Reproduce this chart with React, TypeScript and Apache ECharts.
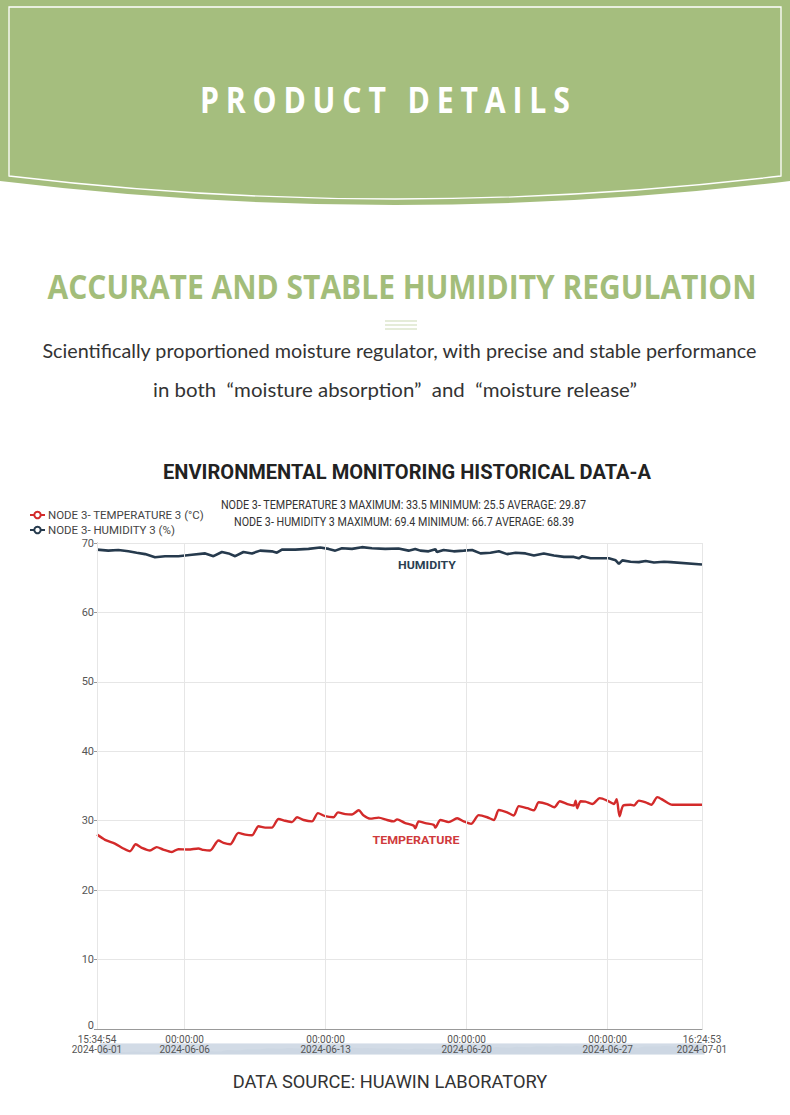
import React, { useEffect, useRef } from "react";
import * as echarts from "echarts";

// ---------------- data ----------------
const START_TIME = "2024-06-01 15:34:54";
const END_TIME = "2024-07-01 16:24:53";
const X_TICK_TIMES = [
  "2024-06-01 15:34:54", "2024-06-06 00:00:00", "2024-06-13 00:00:00",
  "2024-06-20 00:00:00", "2024-06-27 00:00:00", "2024-07-01 16:24:53",
];

const legendNames = ["NODE 3- TEMPERATURE 3 (°C)", "NODE 3- HUMIDITY 3 (%)"];

const statsLines = [
  "NODE 3- TEMPERATURE 3 MAXIMUM: 33.5 MINIMUM: 25.5 AVERAGE: 29.87",
  "NODE 3- HUMIDITY 3 MAXIMUM: 69.4 MINIMUM: 66.7 AVERAGE: 68.39",
];

const tempTimes = [
  "2024-06-01 15:34:54", "2024-06-02 01:10", "2024-06-02 12:55", "2024-06-02 23:00", "2024-06-03 06:55",
  "2024-06-03 13:40", "2024-06-03 20:50", "2024-06-04 06:40", "2024-06-04 14:40", "2024-06-04 22:30",
  "2024-06-05 08:40", "2024-06-05 16:30", "2024-06-06 04:30", "2024-06-06 16:20", "2024-06-06 22:20",
  "2024-06-07 06:15", "2024-06-07 16:20", "2024-06-07 22:20", "2024-06-08 06:15", "2024-06-08 16:05",
  "2024-06-09 00:15", "2024-06-09 08:10", "2024-06-09 16:05", "2024-06-10 00:00", "2024-06-10 07:55",
  "2024-06-10 15:50", "2024-06-10 23:45", "2024-06-11 07:55", "2024-06-11 13:55", "2024-06-11 21:50",
  "2024-06-12 07:40", "2024-06-12 14:50", "2024-06-12 23:30", "2024-06-13 09:20", "2024-06-13 14:40",
  "2024-06-13 23:30", "2024-06-14 07:25", "2024-06-14 15:20", "2024-06-14 21:20", "2024-06-15 05:15",
  "2024-06-15 15:05", "2024-06-16 01:10", "2024-06-16 09:05", "2024-06-16 13:10", "2024-06-16 22:05",
  "2024-06-17 08:50", "2024-06-17 10:45", "2024-06-17 14:50", "2024-06-17 22:45", "2024-06-18 08:50",
  "2024-06-18 10:45", "2024-06-18 16:45", "2024-06-19 02:35", "2024-06-19 12:40", "2024-06-19 20:35",
  "2024-06-20 05:15", "2024-06-20 14:25", "2024-06-21 00:30", "2024-06-21 08:25", "2024-06-21 14:25",
  "2024-06-22 00:15", "2024-06-22 08:10", "2024-06-22 14:10", "2024-06-23 00:15", "2024-06-23 08:10",
  "2024-06-23 13:55", "2024-06-24 00:00", "2024-06-24 08:35", "2024-06-24 15:05", "2024-06-25 00:00",
  "2024-06-25 07:40", "2024-06-25 09:50", "2024-06-25 11:45", "2024-06-25 15:50", "2024-06-25 21:35",
  "2024-06-26 05:45", "2024-06-26 14:35", "2024-06-26 23:30", "2024-06-27 07:25", "2024-06-27 10:45",
  "2024-06-27 14:10", "2024-06-27 18:40", "2024-06-28 03:20", "2024-06-28 07:25", "2024-06-28 13:10",
  "2024-06-28 21:20", "2024-06-29 04:05", "2024-06-29 11:15", "2024-06-29 19:10", "2024-06-30 05:00",
  "2024-07-01 16:24:53",
];

const tempValues = [
  28.0, 27.25, 26.7, 26.0, 25.6, 26.6, 26.1, 25.7, 26.2, 25.85,
  25.5, 25.9, 25.85, 26.0, 25.8, 25.7, 27.15, 26.8, 26.6, 28.25,
  28.0, 27.9, 29.2, 29.0, 29.0, 30.25, 30.0, 29.8, 30.5, 30.1,
  29.9, 31.1, 30.65, 30.5, 31.2, 30.95, 30.9, 31.5, 30.75, 30.3,
  30.45, 30.1, 29.9, 30.2, 29.7, 29.3, 28.9, 29.9, 29.65, 29.4,
  29.0, 30.1, 29.8, 30.35, 29.9, 29.55, 30.8, 30.5, 30.1, 31.55,
  31.2, 30.75, 32.1, 31.8, 31.5, 32.65, 32.4, 31.95, 32.8, 32.4,
  32.2, 32.9, 31.8, 32.8, 32.75, 32.4, 33.25, 32.9, 32.4, 33.1,
  30.65, 32.2, 32.3, 32.2, 32.9, 32.65, 32.3, 33.4, 32.9, 32.3,
  32.3,
];

const humTimes = [
  "2024-06-01 15:34:54", "2024-06-02 05:00", "2024-06-02 17:00", "2024-06-03 05:00", "2024-06-03 14:50",
  "2024-06-04 00:55", "2024-06-04 12:40", "2024-06-05 00:40", "2024-06-05 16:30", "2024-06-06 08:40",
  "2024-06-07 00:30", "2024-06-07 10:20", "2024-06-07 20:25", "2024-06-08 04:20", "2024-06-08 12:15",
  "2024-06-08 22:05", "2024-06-09 08:10", "2024-06-09 18:00", "2024-06-10 07:55", "2024-06-10 13:55",
  "2024-06-10 19:55", "2024-06-11 11:45", "2024-06-12 03:35", "2024-06-12 17:30", "2024-06-13 03:35",
  "2024-06-13 11:30", "2024-06-13 19:25", "2024-06-14 07:25", "2024-06-14 19:10", "2024-06-15 07:10",
  "2024-06-15 23:00", "2024-06-16 14:50", "2024-06-17 02:50", "2024-06-17 10:45", "2024-06-17 16:45",
  "2024-06-18 02:35", "2024-06-18 10:45", "2024-06-18 12:40", "2024-06-18 20:35", "2024-06-19 08:35",
  "2024-06-19 20:35", "2024-06-20 06:30", "2024-06-20 16:30", "2024-06-21 04:20", "2024-06-21 14:25",
  "2024-06-22 00:15", "2024-06-22 10:20", "2024-06-22 22:05", "2024-06-23 08:10", "2024-06-23 19:55",
  "2024-06-24 07:55", "2024-06-24 19:55", "2024-06-25 07:40", "2024-06-25 13:40", "2024-06-25 17:45",
  "2024-06-26 03:35", "2024-06-26 15:35", "2024-06-27 01:25", "2024-06-27 09:35", "2024-06-27 13:25",
  "2024-06-27 17:30", "2024-06-28 03:20", "2024-06-28 13:10", "2024-06-28 21:20", "2024-06-29 07:10",
  "2024-06-29 19:10", "2024-06-30 03:05", "2024-07-01 16:24:53",
];

const humValues = [
  69.05, 68.9, 69.0, 68.8, 68.6, 68.4, 67.95, 68.1, 68.1, 68.3,
  68.5, 68.1, 68.7, 68.5, 68.1, 68.7, 68.5, 68.9, 68.8, 68.6,
  69.05, 69.05, 69.15, 69.35, 69.15, 68.9, 69.25, 69.15, 69.4, 69.25,
  69.15, 69.2, 68.9, 69.15, 68.9, 68.8, 69.1, 68.7, 69.0, 68.8,
  68.9, 69.0, 68.5, 68.6, 68.8, 68.4, 68.6, 68.5, 68.2, 68.5,
  68.2, 68.0, 68.0, 67.8, 68.1, 67.8, 67.8, 67.8, 67.5, 67.0,
  67.5, 67.3, 67.25, 67.4, 67.2, 67.3, 67.25, 66.9,
];

const yMin = 0;
const yMax = 70;
const yStep = 10;

// ---------------- helpers ----------------
function toMs(s: string): number {
  const [d, t] = s.split(" ");
  const [Y, M, D] = d.split("-").map(Number);
  const [h, m, sec] = t.split(":").map(Number);
  return Date.UTC(Y, M - 1, D, h, m, sec || 0);
}
const pad = (n: number) => String(n).padStart(2, "0");
function fmtLabel(v: number): string {
  const d = new Date(v);
  return (
    `${pad(d.getUTCHours())}:${pad(d.getUTCMinutes())}:${pad(d.getUTCSeconds())}\n` +
    `${d.getUTCFullYear()}-${pad(d.getUTCMonth() + 1)}-${pad(d.getUTCDate())}`
  );
}

let measureCtx: CanvasRenderingContext2D | null = null;
function textWidth(text: string, font: string): number {
  if (!measureCtx) measureCtx = document.createElement("canvas").getContext("2d");
  measureCtx!.font = font;
  return measureCtx!.measureText(text).width;
}

const SANS = "Roboto, 'Noto Sans', sans-serif";
const OPEN = "'Open Sans', 'Noto Sans', sans-serif";
const LATO = "Lato, 'Noto Sans', sans-serif";

type FitProps = {
  text: string; cx: number; cy: number; family: string; size: number;
  weight: number; color: string; width: number; spacing?: number; scale?: number;
};
function FitText({ text, cx, cy, family, size, weight, color, width, spacing, scale }: FitProps) {
  const font = `${weight} ${size}px ${family}`;
  const natural = textWidth(text, font);
  let s = scale ?? 1;
  let ls = spacing ?? 0;
  if (scale !== undefined && spacing === undefined) {
    ls = Math.max(0, (width / s - natural) / (text.length - 1));
  } else if (scale === undefined) {
    s = width / (natural + ls * (text.length - 1));
  }
  return (
    <div
      style={{
        position: "absolute", left: cx - 600, width: 1200, top: cy - size * 0.6,
        height: size * 1.2, lineHeight: `${size * 1.2}px`, textAlign: "center",
        whiteSpace: "pre", fontFamily: family, fontSize: size, fontWeight: weight,
        color, letterSpacing: ls, pointerEvents: "none",
      }}
    >
      <span style={{ display: "inline-block", transform: `scaleX(${s})`, transformOrigin: "center", marginRight: -ls }}>
        {text}
      </span>
    </div>
  );
}

function fitScale(text: string, font: string, target: number) {
  return target / textWidth(text, font);
}

// ---------------- component ----------------
export default function App() {
  const ref = useRef<HTMLDivElement>(null);

  useEffect(() => {
    if (!ref.current) return;
    const chart = echarts.init(ref.current, null, { renderer: "svg" });

    const titleText = "ENVIRONMENTAL MONITORING HISTORICAL DATA-A";
    const footerText = "DATA SOURCE: HUAWIN LABORATORY";
    const titleFont = `bold 20px ${SANS}`;
    const statFont = `12px ${SANS}`;
    const footFont = `18px ${SANS}`;
    const tagFont = `bold 11px ${SANS}`;
    const legendSize = 11 * fitScale(legendNames[0], `11px ${SANS}`, 156);

    const tempData = tempTimes.map((t, i) => [toMs(t), tempValues[i]]);
    const humData = humTimes.map((t, i) => [toMs(t), humValues[i]]);
    const xTicks = X_TICK_TIMES.map(toMs);

    const textEl = (text: string, x: number, y: number, font: string, fs: number, fw: string, fill: string, target: number) => ({
      type: "text",
      x, y,
      scaleX: fitScale(text, font, target),
      silent: true,
      style: {
        text, fill, fontSize: fs, fontWeight: fw, fontFamily: SANS,
        align: "center", verticalAlign: "middle",
      },
    });

    chart.setOption({
      animation: false,
      backgroundColor: "transparent",
      grid: { left: 97, right: 88, top: 543, bottom: 86 },
      legend: {
        orient: "vertical",
        left: 24,
        top: 504,
        itemWidth: 15,
        itemHeight: 8,
        itemGap: 3,
        data: legendNames,
        textStyle: { fontSize: legendSize, color: "#444", fontFamily: SANS, lineHeight: 12, padding: [0, 0, 0, -2] },
      },
      xAxis: {
        type: "value",
        min: toMs(START_TIME),
        max: toMs(END_TIME),
        z: 10,
        axisLine: { show: true, lineStyle: { color: "#999" } },
        axisTick: { show: false, customValues: xTicks },
        splitLine: { show: true, lineStyle: { color: "#e6e6e6" } },
        axisLabel: {
          customValues: xTicks,
          formatter: (v: number) => fmtLabel(v),
          fontSize: 10, lineHeight: 10, color: "#555", fontFamily: SANS, margin: 5,
          showMinLabel: true, showMaxLabel: true,
        },
      },
      yAxis: {
        type: "value",
        min: yMin, max: yMax, interval: yStep,
        axisLine: { show: true, lineStyle: { color: "#999" } },
        axisTick: { show: true, length: 3, lineStyle: { color: "#999" } },
        splitLine: { show: true, lineStyle: { color: "#e6e6e6" } },
        axisLabel: {
          fontSize: 11, color: "#555", fontFamily: SANS, margin: 3,
          formatter: (v: number) => (v === yMin ? `{base|${v}}` : `${v}`),
          rich: { base: { fontSize: 11, color: "#555", fontFamily: SANS, padding: [0, 0, 7, 0] } },
        },
      },
      dataZoom: [
        {
          type: "slider", xAxisIndex: 0, filterMode: "none",
          left: 97, right: 88, top: 1043, height: 11, z: 1,
          showDetail: false, brushSelect: false,
          handleSize: 0, moveHandleSize: 0,
          borderColor: "transparent",
          backgroundColor: "rgba(214,222,232,0.7)",
          fillerColor: "rgba(190,203,220,0.45)",
          handleStyle: { opacity: 0 },
          moveHandleStyle: { opacity: 0 },
          dataBackground: { lineStyle: { opacity: 0 }, areaStyle: { color: "rgba(165,180,200,0.45)" } },
          selectedDataBackground: { lineStyle: { opacity: 0 }, areaStyle: { color: "rgba(165,180,200,0.45)" } },
          emphasis: { handleStyle: { opacity: 0 }, moveHandleStyle: { opacity: 0 } },
        },
      ],
      series: [
        {
          name: legendNames[0],
          type: "line",
          data: tempData,
          color: "#d32a2a",
          symbol: "emptyCircle",
          showSymbol: false,
          smooth: 0.25,
          lineStyle: { width: 2.4, color: "#d32a2a" },
        },
        {
          name: legendNames[1],
          type: "line",
          data: humData,
          color: "#263a4d",
          symbol: "emptyCircle",
          showSymbol: false,
          smooth: false,
          lineStyle: { width: 2.6, color: "#263a4d" },
        },
      ],
      graphic: [
        textEl(titleText, 407, 472, titleFont, 20, "bold", "#222", 488),
        textEl(statsLines[0], 403.5, 505, statFont, 12, "normal", "#333", 366),
        textEl(statsLines[1], 404, 522, statFont, 12, "normal", "#333", 340),
        textEl("HUMIDITY", 427, 565, tagFont, 11, "bold", "#2b3f52", 58),
        textEl("TEMPERATURE", 416, 840, tagFont, 11, "bold", "#cf3a3c", 87),
        textEl(footerText, 390, 1082, footFont, 18, "normal", "#333", 315),
      ],
    });

    return () => chart.dispose();
  }, []);

  return (
    <div style={{ position: "absolute", left: 0, top: 0, width: 790, height: 1115, background: "#fff", overflow: "hidden" }}>
      <svg width={790} height={215} style={{ position: "absolute", left: 0, top: 0 }}>
        <path d="M0,0 H790 V181 Q395,229 0,181 Z" fill="#a5be7e" />
        <path d="M9,7 H781 V176 Q395,222 9,176 Z" fill="none" stroke="#ffffff" strokeWidth={1.3} />
      </svg>
      <FitText text="PRODUCT DETAILS" cx={384} cy={100} family={OPEN} size={36} weight={700} color="#ffffff" width={370} scale={0.84} />
      <FitText text="ACCURATE AND STABLE HUMIDITY REGULATION" cx={402.5} cy={286} family={OPEN} size={34} weight={700} color="#a3bd7a" width={709} />
      <svg width={40} height={12} style={{ position: "absolute", left: 383, top: 319 }}>
        <line x1={2} y1={2} x2={34} y2={2} stroke="#cbd9b3" strokeWidth={1} />
        <line x1={2} y1={6} x2={34} y2={6} stroke="#cbd9b3" strokeWidth={1} />
        <line x1={2} y1={10} x2={34} y2={10} stroke="#cbd9b3" strokeWidth={1} />
      </svg>
      <FitText text="Scientifically proportioned moisture regulator, with precise and stable performance" cx={399.5} cy={351} family={LATO} size={19} weight={400} color="#333" width={715} />
      <FitText text={"in both  “moisture absorption”  and  “moisture release”"} cx={395} cy={390} family={LATO} size={19} weight={400} color="#333" width={484} />
      <div ref={ref} style={{ position: "absolute", left: 0, top: 0, width: 790, height: 1115 }} />
    </div>
  );
}
